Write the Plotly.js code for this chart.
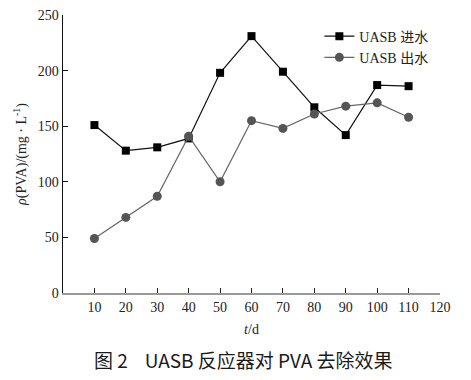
<!DOCTYPE html>
<html><head><meta charset="utf-8">
<script src="https://cdn.plot.ly/plotly-3.0.1.min.js"></script>
<style>html,body{margin:0;padding:0;background:#fff}#c{width:471px;height:380px}</style>
</head><body><div id="c"></div>
<script>
const days = [10,20,30,40,50,60,70,80,90,100,110];
const influent = [151,128,131,139,198,231,199,167,142,187,186];
const effluent = [49,68,87,141,100,155,148,161,168,171,158];
const xTicks = [10,20,30,40,50,60,70,80,90,100,110,120];
const yTicks = [0,50,100,150,200,250];
const seriesNames = ['UASB 进水','UASB 出水'];
const serif = '"Liberation Serif","Times New Roman","Noto Sans CJK SC",serif';

const traces = [
 {x: days, y: influent, name: seriesNames[0], mode:'lines+markers', type:'scatter',
  line:{color:'#111', width:1.2}, marker:{symbol:'square', size:8, color:'#000'}},
 {x: days, y: effluent, name: seriesNames[1], mode:'lines+markers', type:'scatter',
  line:{color:'#666', width:1.2}, marker:{symbol:'circle', size:9, color:'#555'}}
];
const layout = {
 width:471, height:380,
 margin:{l:63, r:31, t:15, b:87},
 paper_bgcolor:'#fff', plot_bgcolor:'#fff',
 font:{family:serif, size:13, color:'#222'},
 showlegend:true,
 legend:{x:0.68, y:0.98, xanchor:'left', yanchor:'top', bgcolor:'rgba(0,0,0,0)',
   font:{family:serif, size:14, color:'#222'}, tracegroupgap:0, itemwidth:30},
 xaxis:{range:[0,120], tickvals:xTicks, ticktext:xTicks.map(String), ticks:'inside', ticklen:5,
   tickcolor:'#222', showline:true, linecolor:'#999', linewidth:2, showgrid:false, zeroline:false,
   tickfont:{family:serif, size:14, color:'#222'},
   title:{text:'<i>t</i>/d', font:{family:serif, size:14, color:'#222'}, standoff:10}},
 yaxis:{range:[0,250], tickvals:yTicks, ticktext:yTicks.map(String), ticks:'inside', ticklen:5,
   tickcolor:'#111', showline:true, linecolor:'#111', linewidth:1.5, showgrid:false, zeroline:false,
   tickfont:{family:serif, size:14, color:'#222'},
   title:{text:'<i>ρ</i>(PVA)/(mg · L<sup>-1</sup>)', font:{family:serif, size:14, color:'#222'}, standoff:8}},
 annotations:[{text:'图 2    UASB 反应器对 PVA 去除效果', xref:'paper', yref:'paper',
   x:0.48, y:-0.241, xanchor:'center', yanchor:'middle', showarrow:false,
   font:{family:'"Noto Sans CJK SC","Noto Sans",sans-serif', size:19, color:'#1a1a1a', weight:'normal'}}]
};
Plotly.newPlot('c', traces, layout, {staticPlot:true});
</script></body></html>
